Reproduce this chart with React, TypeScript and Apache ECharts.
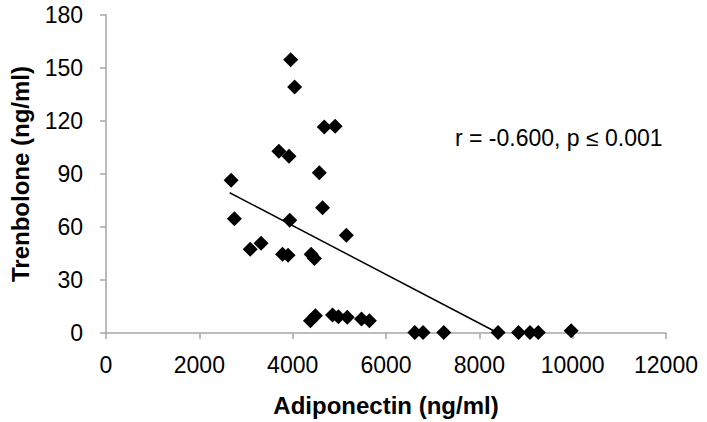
import React, { useEffect, useRef } from "react";
import * as echarts from "echarts";

const adiponectin = [
  3958, 4042, 4677, 4910, 3704, 3922, 4571, 2681, 4641, 2751, 3937, 5149,
  3090, 3323, 3782, 3901, 4396, 4466, 4381, 4487, 4853, 4980, 5170, 5475,
  5644, 6618, 6794, 7238, 8402, 8840, 9086, 9263, 9968,
];
const trenbolone = [
  154.6, 139.2, 116.6, 117.0, 102.9, 100.1, 90.7, 86.5, 70.9, 64.7, 63.8, 55.3,
  47.4, 50.8, 44.6, 44.0, 44.6, 42.2, 6.9, 9.8, 10.2, 9.2, 8.9, 7.9,
  6.9, 0.3, 0.3, 0.3, 0.3, 0.3, 0.3, 0.3, 1.3,
];
const trendX = [2650, 8400];
const trendY = [79.4, 0];
const xTicks = { min: 0, max: 12000, interval: 2000 };
const yTicks = { min: 0, max: 180, interval: 30 };
const annotation = "r = -0.600, p \u2264 0.001";
const xTitle = "Adiponectin (ng/ml)";
const yTitle = "Trenbolone (ng/ml)";

const FONT = "'Liberation Sans', Arial, sans-serif";

export default function App() {
  const ref = useRef<HTMLDivElement>(null);
  useEffect(() => {
    if (!ref.current) return;
    const chart = echarts.init(ref.current, null, { renderer: "svg" });
    const axisLineColor = "#a6a6a6";
    chart.setOption({
      animation: false,
      backgroundColor: "#ffffff",
      grid: { left: 99, right: 41, top: 15, bottom: 88 },
      xAxis: {
        type: "value",
        min: xTicks.min,
        max: xTicks.max,
        interval: xTicks.interval,
        name: xTitle,
        nameLocation: "middle",
        nameGap: 60,
        nameTextStyle: { fontFamily: FONT, fontSize: 24, fontWeight: "bold", color: "#000" },
        axisLine: { show: true, onZero: false, lineStyle: { color: axisLineColor, width: 1.5 } },
        axisTick: { show: true, length: 6, lineStyle: { color: axisLineColor, width: 1.5 } },
        axisLabel: {
          fontFamily: FONT,
          fontSize: 23,
          color: "#000",
          margin: 20,
          formatter: (v: number) => String(v),
        },
        splitLine: { show: false },
      },
      yAxis: {
        type: "value",
        min: yTicks.min,
        max: yTicks.max,
        interval: yTicks.interval,
        name: yTitle,
        nameLocation: "middle",
        nameGap: 74,
        nameTextStyle: { fontFamily: FONT, fontSize: 24, fontWeight: "bold", color: "#000" },
        axisLine: { show: true, lineStyle: { color: axisLineColor, width: 1.5 } },
        axisTick: { show: true, length: 6, lineStyle: { color: axisLineColor, width: 1.5 } },
        axisLabel: {
          fontFamily: FONT,
          fontSize: 23,
          color: "#000",
          margin: 23,
          formatter: (v: number) => String(v),
        },
        splitLine: { show: false },
      },
      series: [
        {
          type: "line",
          data: trendX.map((x, i) => [x, trendY[i]]),
          symbol: "none",
          lineStyle: { color: "#000", width: 1.5 },
          z: 1,
        },
        {
          type: "scatter",
          data: adiponectin.map((x, i) => [x, trenbolone[i]]),
          symbol: "diamond",
          symbolSize: 15,
          itemStyle: { color: "#000", opacity: 1 },
          z: 2,
        },
      ],
      graphic: [
        {
          type: "text",
          left: 455,
          top: 126,
          style: { text: annotation, fontFamily: FONT, fontSize: 23, fill: "#000" },
        },
      ],
    });
    return () => chart.dispose();
  }, []);
  return (
    <div
      ref={ref}
      style={{ position: "fixed", left: 0, top: 0, width: 707, height: 422 }}
    />
  );
}
